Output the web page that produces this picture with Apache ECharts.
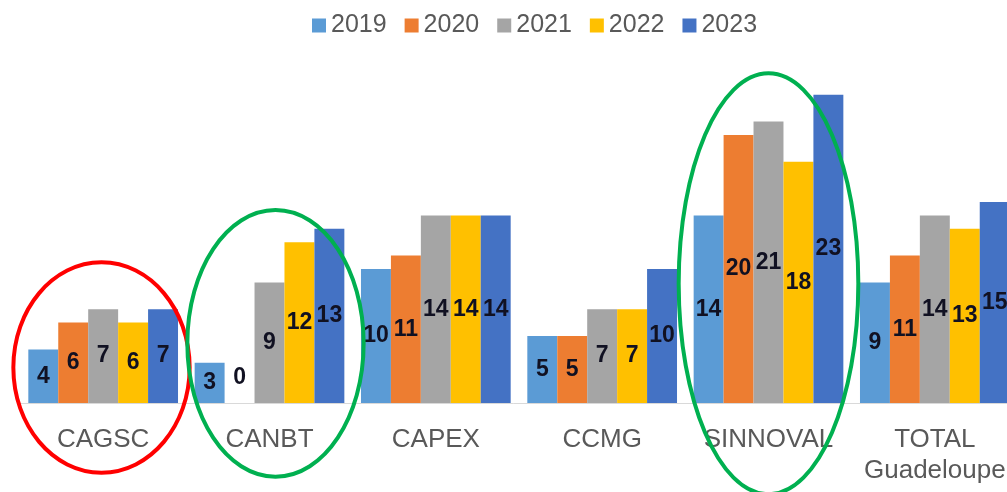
<!DOCTYPE html>
<html>
<head>
<meta charset="utf-8">
<script src="https://cdn.jsdelivr.net/npm/echarts@6/dist/echarts.min.js"></script>
<style>
  html, body { margin: 0; padding: 0; background: #fff; }
  #chart { width: 1007px; height: 492px; }
</style>
</head>
<body>
<div id="chart"></div>
<script>
const categories = ['CAGSC', 'CANBT', 'CAPEX', 'CCMG', 'SINNOVAL', 'TOTAL\nGuadeloupe']
const years = ['2019', '2020', '2021', '2022', '2023']
const v2019 = [4, 3, 10, 5, 14, 9]
const v2020 = [6, 0, 11, 5, 20, 11]
const v2021 = [7, 9, 14, 7, 21, 14]
const v2022 = [6, 12, 14, 7, 18, 13]
const v2023 = [7, 13, 14, 10, 23, 15]
const colors = ['#5B9BD5', '#ED7D31', '#A5A5A5', '#FFC000', '#4472C4']

// circled groups: category, vertical span in value units, half width and shift as share of the band
const circles = [
  { cat: 'CAGSC', low: -5.2, high: 10.5, share: 0.53, shift: -0.01, color: '#FF0000' },
  { cat: 'CANBT', low: -5.5, high: 14.4, share: 0.53, shift: 0.036, color: '#00B050' },
  { cat: 'SINNOVAL', low: -6.8, high: 24.6, share: 0.54, shift: 0, color: '#00B050' }
]

const FONT = '"Liberation Sans", Arial, sans-serif'
const seriesValues = [v2019, v2020, v2021, v2022, v2023]

const chart = echarts.init(document.getElementById('chart'))

const option = {
  animation: false,
  textStyle: { fontFamily: FONT },
  legend: {
    data: years,
    left: 307,
    top: 8,
    itemWidth: 14,
    itemHeight: 14,
    itemGap: 18,
    icon: 'rect',
    textStyle: { fontSize: 25, color: '#595959', fontFamily: FONT }
  },
  grid: { left: 20, width: 998, top: 68, bottom: 89, outerBoundsMode: 'none' },
  xAxis: {
    type: 'category',
    data: categories,
    axisTick: { show: false },
    axisLine: { lineStyle: { color: '#D9D9D9', width: 1 } },
    axisLabel: {
      margin: 21,
      fontSize: 26,
      lineHeight: 31,
      color: '#595959',
      fontFamily: FONT,
      interval: 0
    }
  },
  yAxis: {
    type: 'value',
    min: 0,
    max: 25,
    show: false,
    splitLine: { show: false }
  },
  series: years.map((y, i) => ({
    name: y,
    type: 'bar',
    barGap: 0,
    barCategoryGap: '10%',
    itemStyle: { color: colors[i] },
    label: {
      show: true,
      position: 'inside',
      fontSize: 23,
      fontWeight: 'bold',
      color: '#111122',
      fontFamily: FONT
    },
    data: seriesValues[i].map(v => v === 0
      ? { value: v, label: { position: 'top', distance: 14 } }
      : v)
  }))
}

chart.setOption(option)

const bandWidth = chart.convertToPixel({ xAxisIndex: 0 }, categories[1]) -
  chart.convertToPixel({ xAxisIndex: 0 }, categories[0])

chart.setOption({
  graphic: circles.map(c => {
    const cx = chart.convertToPixel({ xAxisIndex: 0 }, c.cat) + bandWidth * c.shift
    const yTop = chart.convertToPixel({ yAxisIndex: 0 }, c.high)
    const yBot = chart.convertToPixel({ yAxisIndex: 0 }, c.low)
    return {
      type: 'ellipse',
      z: 100,
      shape: { cx: cx, cy: (yTop + yBot) / 2, rx: bandWidth * c.share, ry: (yBot - yTop) / 2 },
      style: { fill: 'none', stroke: c.color, lineWidth: 4 }
    }
  })
})
</script>
</body>
</html>
